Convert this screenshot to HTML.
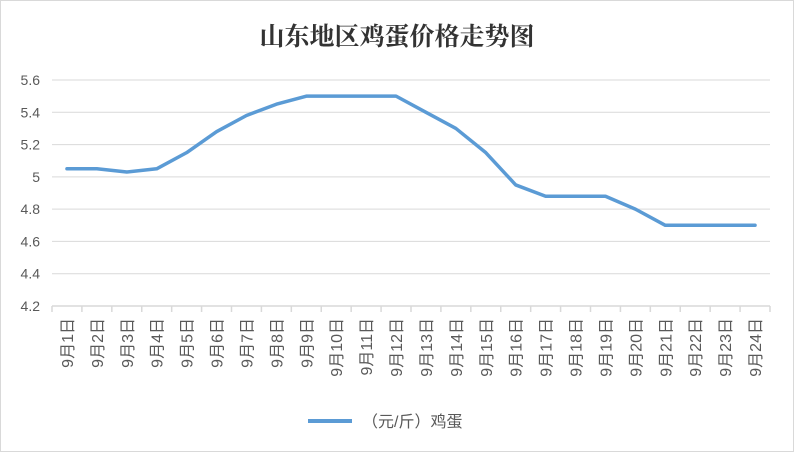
<!DOCTYPE html>
<html><head><meta charset="utf-8"><style>
body{margin:0;background:#fff}
svg{display:block}
text{font-family:"Liberation Sans","Noto Sans CJK SC",sans-serif}
</style></head><body>
<svg id="chart" width="794" height="452">
<rect x="0.5" y="0.5" width="793" height="451" fill="#fff" stroke="#d9d9d9"/>
<text x="397" y="45" text-anchor="middle" font-size="25" font-weight="bold" fill="#333" style="font-family:'Noto Serif CJK SC',serif">山东地区鸡蛋价格走势图</text>
<g id="grid"></g>
<g id="yaxis"></g>
<g id="xaxis"></g>
<g id="series"></g>
<g>
<line x1="308" y1="421" x2="352" y2="421" stroke="#5b9bd5" stroke-width="4"/>
<text x="362" y="427" font-size="16" fill="#595959">（元/斤）鸡蛋</text>
</g>
</svg>
<script>
const categories=["9月1日","9月2日","9月3日","9月4日","9月5日","9月6日","9月7日","9月8日","9月9日","9月10日","9月11日","9月12日","9月13日","9月14日","9月15日","9月16日","9月17日","9月18日","9月19日","9月20日","9月21日","9月22日","9月23日","9月24日"];
const values=[5.05,5.05,5.03,5.05,5.15,5.28,5.38,5.45,5.5,5.5,5.5,5.5,5.4,5.3,5.15,4.95,4.88,4.88,4.88,4.8,4.7,4.7,4.7,4.7];
const yTicks=[4.2,4.4,4.6,4.8,5,5.2,5.4,5.6];
const NS="http://www.w3.org/2000/svg";
const L=52,R=770,T=80,B=306,yMin=4.2,yMax=5.6;
const bw=(R-L)/categories.length;
const xs=i=>L+bw*(i+0.5);
const ys=v=>B-(v-yMin)/(yMax-yMin)*(B-T);
function mk(tag,attrs,parent){const e=document.createElementNS(NS,tag);for(const k in attrs)e.setAttribute(k,attrs[k]);parent.appendChild(e);return e;}
const grid=document.getElementById('grid'),ya=document.getElementById('yaxis'),xa=document.getElementById('xaxis'),se=document.getElementById('series');
yTicks.forEach(t=>{
 const y=ys(t);
 if(t!==yMin){const g=mk('line',{x1:L,x2:R,y1:y,y2:y,stroke:'#d9d9d9','stroke-width':1},grid);
 
 }
 const tx=mk('text',{x:40,y:y+5,'text-anchor':'end','font-size':14,fill:'#595959'},ya);
 tx.textContent=String(t);
 
 
});
const ax=mk('line',{x1:L,x2:R,y1:B,y2:B,stroke:'#d9d9d9','stroke-width':1.5},xa);


for(let i=0;i<=categories.length;i++){
 const x=L+bw*i;
 const tk=mk('line',{x1:x,x2:x,y1:B,y2:B+6,stroke:'#d9d9d9','stroke-width':1.5},xa);
 
 
}
categories.forEach((c,i)=>{
 const x=xs(i)+6;
 const tx=mk('text',{x:x,y:318,'text-anchor':'end','font-size':16,fill:'#595959',transform:`rotate(-90 ${x} 318)`},xa);
 tx.textContent=c;
 
 
});
const pl=mk('polyline',{points:values.map((v,i)=>xs(i)+','+ys(v)).join(' '),fill:'none',stroke:'#5b9bd5','stroke-width':3.5,'stroke-linejoin':'round','stroke-linecap':'round'},se);


</script>
</body></html>
